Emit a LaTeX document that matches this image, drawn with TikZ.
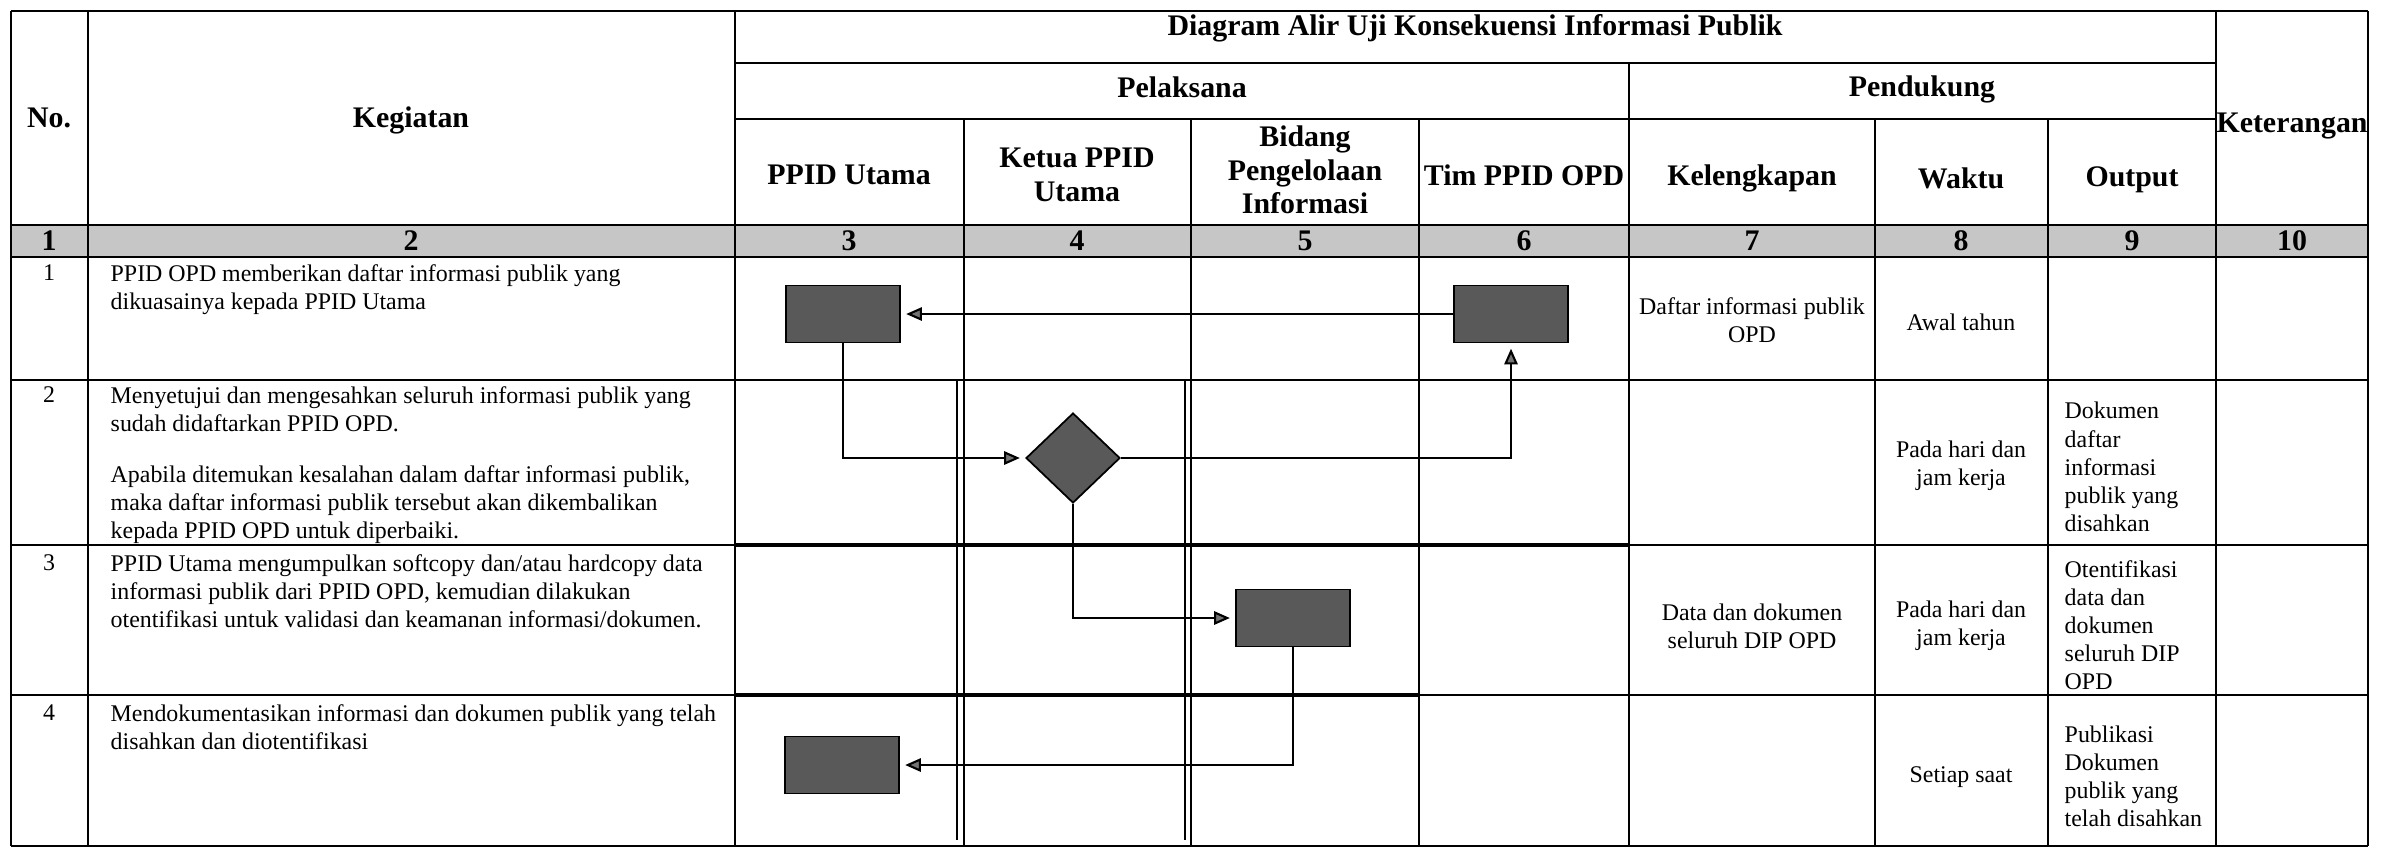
\documentclass[tikz,border=0pt]{standalone}
\usepackage{fontspec}
\setmainfont{Liberation Serif}
\usetikzlibrary{shapes.geometric,arrows.meta}

\begin{document}
\begin{tikzpicture}[x=0.1mm,y=-0.1mm,
  garis/.style={line width=0.45pt},
  tebal/.style={line width=1.2pt},
  head/.style={font=\fontsize{8.5}{9.5}\selectfont\bfseries, align=center, inner sep=0pt},
  body/.style={font=\fontsize{6.8}{8}\selectfont, align=left, inner sep=0pt},
  mid/.style={font=\fontsize{6.8}{8}\selectfont, align=center, inner sep=0pt},
  proses/.style={draw, line width=0.5pt, fill=black!65, minimum width=1.14cm, minimum height=0.57cm, inner sep=0pt},
  putusan/.style={diamond, draw, line width=0.5pt, fill=black!65, minimum width=0.94cm, minimum height=0.9cm, inner sep=0pt},
  alur/.style={line width=0.6pt, -{Triangle[length=4.5pt,width=3.8pt,fill=black!55]}, shorten >=1.5pt}]
\useasboundingbox (0,0) rectangle (2389,850);

% Table grid
\fill[gray!45] (11,225) rectangle (2368,257);
\foreach \y in {11,225,257,380,545,695,846}
  \draw[garis] (11,\y) -- (2368,\y);
\foreach \y in {63,119}
  \draw[garis] (735,\y) -- (2216,\y);
\draw[tebal] (735,545) -- (1629,545);
\draw[tebal] (735,695) -- (1419,695);
\foreach \x in {11,88,735,2216,2368}
  \draw[garis] (\x,11) -- (\x,846);
\draw[garis] (1629,63) -- (1629,846);
\foreach \x in {964,1191,1419,1875,2048}
  \draw[garis] (\x,119) -- (\x,846);
% doubled lines in the lower rows
\foreach \x in {957,1185}
  \draw[garis] (\x,380) -- (\x,840);

% Header
\node[head] (no) at (49,118) {No.};
\node[head] (keg) at (411,120) {Kegiatan};
\node[head] (judul) at (1475,28) {Diagram Alir Uji Konsekuensi Informasi Publik};
\node[head] (pel) at (1182,87) {Pelaksana};
\node[head] (pend) at (1922,89) {Pendukung};
\node[head] (ket) at (2292,126) {Keterangan};
\node[head] (k3) at (849,175) {PPID Utama};
\node[head] (k4) at (1077,175) {Ketua PPID\\Utama};
\node[head] (k5) at (1305,170) {Bidang\\Pengelolaan\\Informasi};
\node[head] (k6) at (1524,175) {Tim PPID OPD};
\node[head] (k7) at (1752,178) {Kelengkapan};
\node[head] (k8) at (1961,178) {Waktu};
\node[head] (k9) at (2132,180) {Output};
\foreach \x [count=\i] in {49,411,849,1077,1305,1524,1752,1961,2132,2292}
  \node[head] (n\i) at (\x,241) {\i};

% Rows
\foreach \y [count=\i] in {264,386,554,704}
  \node[body, anchor=north] (r\i) at (49,\y) {\i};
\node[body, anchor=north west] (keg1) at (110,264)
  {PPID OPD memberikan daftar informasi publik yang\\dikuasainya kepada PPID Utama};
\node[body, anchor=north west] (keg2) at (110,386)
  {Menyetujui dan mengesahkan seluruh informasi publik yang\\sudah didaftarkan PPID OPD.\\[6.5pt]
   Apabila ditemukan kesalahan dalam daftar informasi publik,\\maka daftar informasi publik tersebut akan dikembalikan\\kepada PPID OPD untuk diperbaiki.};
\node[body, anchor=north west] (keg3) at (110,554)
  {PPID Utama mengumpulkan softcopy dan/atau hardcopy data\\informasi publik dari PPID OPD, kemudian dilakukan\\otentifikasi untuk validasi dan keamanan informasi/dokumen.};
\node[body, anchor=north west] (keg4) at (110,704)
  {Mendokumentasikan informasi dan dokumen publik yang telah\\disahkan dan diotentifikasi};

% Pendukung
\node[mid] (lengkap1) at (1752,320) {Daftar informasi publik\\OPD};
\node[mid] (lengkap3) at (1752,626) {Data dan dokumen\\seluruh DIP OPD};
\node[mid] (waktu1) at (1961,322) {Awal tahun};
\node[mid] (waktu2) at (1961,466) {Pada hari dan\\jam kerja};
\node[mid] (waktu3) at (1961,626) {Pada hari dan\\jam kerja};
\node[mid] (waktu4) at (1961,777) {Setiap saat};
\node[body, anchor=west] (out2) at (2064,467) {Dokumen\\daftar\\informasi\\publik yang\\disahkan};
\node[body, anchor=west] (out3) at (2064,625) {Otentifikasi\\data dan\\dokumen\\seluruh DIP\\OPD};
\node[body, anchor=west] (out4) at (2064,776) {Publikasi\\Dokumen\\publik yang\\telah disahkan};

% Flow
\node[proses] (utama1) at (843,314) {};
\node[proses] (tim1) at (1511,314) {};
\node[putusan] (setuju) at (1073,458) {};
\node[proses] (bidang3) at (1293,618) {};
\node[proses] (utama4) at (842,765) {};
\draw[alur] (tim1.west) -- (utama1.east);
\draw[alur] (utama1.south) |- (setuju.west);
\draw[alur] (setuju.east) -| (tim1.south);
\draw[alur] (setuju.south) |- (bidang3.west);
\draw[alur] (bidang3.south) |- (utama4.east);
\end{tikzpicture}
\end{document}
